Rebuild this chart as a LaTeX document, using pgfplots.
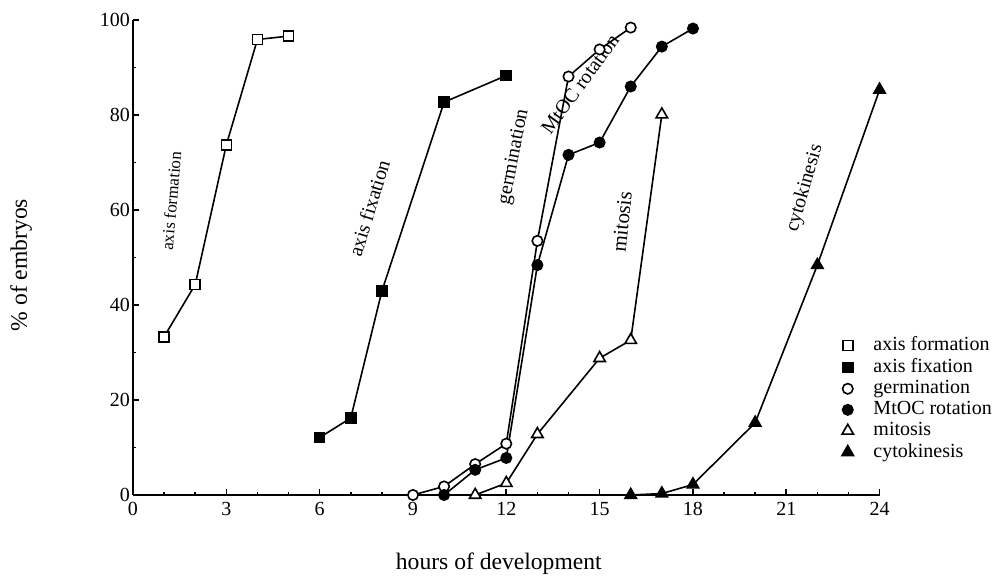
\documentclass[border=0pt]{standalone}
\usepackage{fontspec}
\setmainfont{Liberation Serif}
\usepackage{pgfplots}
\pgfplotsset{compat=1.18}
\begin{document}
\fontsize{10}{12}\selectfont
\begin{tikzpicture}
\begin{axis}[
  at={(0,0)}, anchor=origin,
  scale only axis, width=373.3pt, height=237.5pt,
  xmin=0, xmax=24, ymin=0, ymax=100,
  axis lines=left, axis line style={-, line width=0.9pt},
  tick align=inside, major tick length=3pt, minor tick length=1.7pt,
  tick style={line width=0.8pt, black},
  xtick={0,3,...,24}, minor x tick num=2,
  ytick={0,20,...,100}, minor y tick num=1,
  ticklabel style={font=\fontsize{10}{12}\selectfont},
  yticklabel style={xshift=2pt},
  /pgf/number format/assume math mode=true,
  clip=false,
  xlabel={hours of development}, ylabel={\% of embryos},
  label style={font=\fontsize{11.8}{14}\selectfont},
  xlabel style={at={(axis description cs:0.49,-0.145)}, anchor=center},
  ylabel style={at={(axis description cs:-0.150,0.484)}, anchor=center},
  every axis plot/.append style={black, line width=0.8pt, mark options={line width=0.8pt, solid}},
  legend style={at={(axis cs:22.78,34.0)}, anchor=north west, draw=none, fill=none,
    font=\fontsize{10}{11}\selectfont, row sep=-0.6pt, column sep=8.5pt, inner sep=0pt, nodes={inner sep=1.5pt}},
  legend cell align=left,
  legend image code/.code={\draw[#1,mark repeat=2,mark phase=2] plot[only marks] coordinates {(0cm,0cm)(0.15cm,0cm)(0.3cm,0cm)};},
]
\addplot[mark=square*, mark size=2.5pt, mark options={fill=white}] coordinates {(1,33.3) (2,44.3) (3,73.7) (4,95.9) (5,96.6)};
\addlegendentry{axis formation}
\addplot[mark=square*, mark size=2.5pt, mark options={fill=black}] coordinates {(6,12.1) (7,16.2) (8,42.9) (10,82.7) (12,88.3)};
\addlegendentry{axis fixation}
\addplot[mark=*, mark size=2.6pt, mark options={fill=white}] coordinates {(9,0) (10,1.8) (11,6.5) (12,10.8) (13,53.5) (14,88.1) (15,93.8) (16,98.4)};
\addlegendentry{germination}
\addplot[mark=*, mark size=2.6pt, mark options={fill=black}] coordinates {(10,0) (11,5.3) (12,7.8) (13,48.4) (14,71.6) (15,74.2) (16,86) (17,94.4) (18,98.2)};
\addlegendentry{MtOC rotation}
\addplot[mark=triangle*, mark size=3.3pt, mark options={fill=white}] coordinates {(11,0) (12,2.5) (13,12.8) (15,28.8) (16,32.6) (17,80.1)};
\addlegendentry{mitosis}
\addplot[mark=triangle*, mark size=3.3pt, mark options={fill=black}] coordinates {(16,0) (17,0.3) (18,2.2) (20,15.2) (22,48.4) (24,85.3)};
\addlegendentry{cytokinesis}
\node[rotate=85, font=\fontsize{8.5}{10}\selectfont] at (axis cs:1.23,61.9) {axis formation};
\node[rotate=73, font=\fontsize{10}{12}\selectfont] at (axis cs:7.59,60.4) {axis fixation};
\node[rotate=79, font=\fontsize{10}{12}\selectfont] at (axis cs:12.25,71.2) {germination};
\node[rotate=54, font=\fontsize{10}{12}\selectfont] at (axis cs:14.37,86.5) {MtOC rotation};
\node[rotate=84, font=\fontsize{10.5}{12}\selectfont] at (axis cs:15.72,57.5) {mitosis};
\node[rotate=74, font=\fontsize{10}{12}\selectfont] at (axis cs:21.6,64.6) {cytokinesis};
\end{axis}
\pgfresetboundingbox
\path (-66.5pt,-40.5pt) rectangle (429.5pt,247.5pt);
\end{tikzpicture}
\end{document}
